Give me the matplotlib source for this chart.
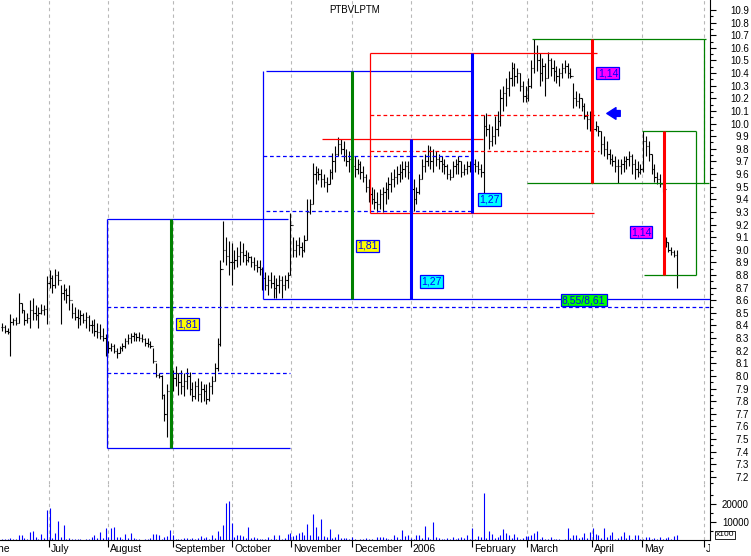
import matplotlib
matplotlib.use('Agg')
import matplotlib.pyplot as plt
from matplotlib.transforms import blended_transform_factory, Bbox, TransformedBbox

plt.rcParams['font.family'] = ['Liberation Sans', 'DejaVu Sans']

# daily bars, one per trading day (June 2005 - May 2006)
high = [8.42, 8.40, 8.38, 8.49, 8.46, 8.47, 8.66, 8.58, 8.52, 8.50,
        8.60, 8.62, 8.56, 8.55, 8.57, 8.56, 8.79, 8.84, 8.80, 8.85,
        8.83, 8.72, 8.73, 8.70, 8.72, 8.58, 8.55, 8.53, 8.52, 8.50,
        8.51, 8.48, 8.44, 8.45, 8.42, 8.41, 8.38, 8.33, 8.28, 8.26,
        8.25, 8.22, 8.24, 8.26, 8.30, 8.33, 8.34, 8.35, 8.34, 8.35,
        8.33, 8.30, 8.30, 8.28, 8.22, 8.10, 8.02, 8.01, 7.86, 7.94,
        7.96, 8.05, 8.08, 8.02, 8.05, 8.02, 8.06, 8.03, 7.95, 7.96,
        7.98, 7.96, 7.94, 7.94, 7.95, 8.00, 8.10, 8.30, 8.92, 9.23,
        9.10, 9.07, 9.05, 9.00, 9.02, 9.07, 9.05, 9.00, 8.98, 8.95,
        8.94, 8.92, 8.92, 8.86, 8.82, 8.80, 8.82, 8.80, 8.78, 8.80,
        8.79, 8.80, 8.82, 9.29, 9.10, 9.08, 9.10, 9.06, 9.12, 9.40,
        9.40, 9.69, 9.66, 9.65, 9.64, 9.60, 9.58, 9.64, 9.77, 9.82,
        9.89, 9.88, 9.86, 9.80, 9.78, 9.76, 9.74, 9.72, 9.70, 9.66,
        9.60, 9.56, 9.50, 9.48, 9.46, 9.48, 9.50, 9.54, 9.58, 9.62,
        9.64, 9.66, 9.68, 9.70, 9.70, 9.70, 9.62, 9.56, 9.50, 9.60,
        9.72, 9.76, 9.83, 9.82, 9.80, 9.78, 9.76, 9.74, 9.72, 9.68,
        9.64, 9.70, 9.72, 9.74, 9.70, 9.68, 9.70, 9.70, 9.73, 9.72,
        9.70, 9.68, 10.07, 10.08, 10.00, 9.98, 10.06, 10.10, 10.27, 10.30,
        10.36, 10.42, 10.49, 10.48, 10.44, 10.40, 10.34, 10.30, 10.36, 10.50,
        10.67, 10.62, 10.56, 10.52, 10.48, 10.57, 10.52, 10.50, 10.46, 10.44,
        10.48, 10.50, 10.48, 10.44, 10.32, 10.26, 10.24, 10.20, 10.16, 10.10,
        10.10, 10.11, 10.02, 9.98, 9.94, 9.90, 9.86, 9.80, 9.76, 9.74,
        9.72, 9.72, 9.74, 9.74, 9.78, 9.76, 9.72, 9.70, 9.68, 9.94,
        9.90, 9.86, 9.76, 9.68, 9.62, 9.60, 9.50, 9.10, 9.06, 9.02,
        9.00, 9.00]
low = [8.36, 8.34, 8.33, 8.16, 8.40, 8.40, 8.42, 8.50, 8.40, 8.42,
       8.38, 8.44, 8.44, 8.38, 8.49, 8.48, 8.41, 8.70, 8.66, 8.70,
       8.72, 8.41, 8.60, 8.58, 8.52, 8.46, 8.44, 8.38, 8.40, 8.42,
       8.38, 8.36, 8.34, 8.32, 8.30, 8.29, 8.28, 8.16, 8.18, 8.20,
       8.18, 8.14, 8.18, 8.20, 8.22, 8.25, 8.26, 8.28, 8.28, 8.28,
       8.27, 8.24, 8.23, 8.22, 8.10, 7.99, 7.98, 7.82, 7.64, 7.52,
       7.43, 7.88, 7.92, 7.85, 7.86, 7.84, 7.90, 7.85, 7.80, 7.82,
       7.80, 7.79, 7.80, 7.78, 7.80, 7.86, 7.96, 8.04, 8.24, 8.90,
       8.88, 8.80, 8.72, 8.85, 8.86, 8.88, 8.90, 8.88, 8.90, 8.86,
       8.84, 8.82, 8.80, 8.68, 8.68, 8.64, 8.70, 8.62, 8.62, 8.66,
       8.62, 8.68, 8.70, 8.80, 8.94, 8.94, 8.96, 8.94, 8.98, 9.08,
       9.28, 9.36, 9.52, 9.55, 9.50, 9.50, 9.46, 9.52, 9.56, 9.62,
       9.74, 9.76, 9.70, 9.66, 9.62, 9.60, 9.58, 9.60, 9.56, 9.54,
       9.46, 9.38, 9.36, 9.32, 9.30, 9.32, 9.30, 9.36, 9.40, 9.46,
       9.50, 9.52, 9.54, 9.56, 9.58, 9.56, 9.44, 9.31, 9.36, 9.44,
       9.56, 9.62, 9.66, 9.64, 9.62, 9.66, 9.64, 9.62, 9.60, 9.56,
       9.55, 9.58, 9.60, 9.60, 9.58, 9.59, 9.60, 9.62, 9.60, 9.62,
       9.60, 9.58, 9.45, 9.90, 9.80, 9.82, 9.84, 9.90, 9.98, 10.10,
       10.14, 10.22, 10.30, 10.30, 10.32, 10.26, 10.17, 10.17, 10.18, 10.28,
       10.40, 10.42, 10.30, 10.34, 10.22, 10.36, 10.38, 10.34, 10.32, 10.30,
       10.36, 10.40, 10.36, 10.36, 10.12, 10.14, 10.12, 10.10, 10.04, 9.96,
       9.94, 9.90, 9.94, 9.90, 9.76, 9.74, 9.72, 9.68, 9.66, 9.62,
       9.53, 9.60, 9.62, 9.64, 9.66, 9.60, 9.56, 9.58, 9.60, 9.62,
       9.74, 9.70, 9.60, 9.54, 9.52, 9.50, 9.46, 9.02, 8.98, 8.96,
       8.94, 8.70]
close = [8.39, 8.36, 8.35, 8.43, 8.44, 8.42, 8.58, 8.52, 8.44, 8.46,
         8.52, 8.50, 8.48, 8.50, 8.52, 8.53, 8.74, 8.78, 8.72, 8.80,
         8.76, 8.66, 8.68, 8.64, 8.60, 8.50, 8.47, 8.46, 8.48, 8.44,
         8.47, 8.40, 8.40, 8.36, 8.35, 8.32, 8.30, 8.24, 8.22, 8.24,
         8.20, 8.18, 8.22, 8.24, 8.28, 8.30, 8.32, 8.33, 8.31, 8.30,
         8.29, 8.26, 8.25, 8.24, 8.12, 8.01, 8.00, 7.85, 7.70, 7.88,
         7.92, 7.98, 8.02, 7.95, 7.92, 7.96, 8.00, 7.90, 7.84, 7.92,
         7.86, 7.90, 7.88, 7.82, 7.92, 7.96, 8.06, 8.25, 8.85, 9.00,
         8.95, 8.90, 8.90, 8.92, 8.95, 8.98, 8.96, 8.92, 8.94, 8.90,
         8.88, 8.86, 8.85, 8.78, 8.72, 8.76, 8.74, 8.70, 8.72, 8.76,
         8.72, 8.76, 8.80, 9.20, 9.00, 9.04, 9.02, 9.00, 9.08, 9.30,
         9.36, 9.60, 9.62, 9.60, 9.56, 9.54, 9.52, 9.62, 9.70, 9.76,
         9.84, 9.80, 9.74, 9.70, 9.72, 9.66, 9.64, 9.68, 9.62, 9.58,
         9.50, 9.44, 9.40, 9.38, 9.36, 9.44, 9.46, 9.48, 9.52, 9.56,
         9.58, 9.60, 9.62, 9.64, 9.66, 9.62, 9.48, 9.40, 9.46, 9.56,
         9.66, 9.70, 9.78, 9.70, 9.74, 9.72, 9.70, 9.68, 9.66, 9.60,
         9.58, 9.66, 9.68, 9.70, 9.62, 9.64, 9.66, 9.66, 9.68, 9.66,
         9.64, 9.62, 9.98, 9.96, 9.86, 9.90, 9.96, 10.02, 10.20, 10.24,
         10.28, 10.36, 10.44, 10.38, 10.40, 10.30, 10.22, 10.20, 10.30, 10.44,
         10.56, 10.50, 10.40, 10.46, 10.36, 10.50, 10.44, 10.42, 10.38, 10.40,
         10.44, 10.46, 10.40, 10.38, 10.20, 10.18, 10.20, 10.14, 10.06, 10.04,
         10.00, 9.96, 9.98, 9.94, 9.84, 9.80, 9.76, 9.72, 9.70, 9.66,
         9.66, 9.68, 9.70, 9.72, 9.74, 9.68, 9.64, 9.62, 9.64, 9.86,
         9.82, 9.76, 9.64, 9.58, 9.56, 9.52, 9.48, 9.06, 9.00, 8.98,
         8.96, 8.80]
# volume in hundreds of shares
volume = [800, 400, 600, 1200, 500, 300, 2700, 2700, 900, 400,
          4500, 5000, 1500, 800, 3300, 1200, 16400, 17700, 1000, 4000,
          10400, 1500, 8200, 700, 900, 500, 600, 300, 400, 200,
          300, 600, 1500, 2600, 900, 4500, 1000, 6400, 1800, 6400,
          6900, 1800, 1500, 500, 3300, 900, 3600, 1000, 600, 300,
          200, 400, 300, 900, 3300, 3300, 2700, 800, 1800, 2000,
          5500, 2700, 400, 600, 300, 1000, 1200, 500, 900, 600,
          1200, 2000, 900, 1800, 600, 2700, 1000, 5100, 2000, 8200,
          20400, 21300, 9500, 1500, 2700, 2700, 2000, 900, 7300, 1200,
          1800, 1000, 600, 300, 800, 1500, 500, 2500, 400, 2800,
          600, 1200, 3200, 3600, 2000, 3000, 4000, 4500, 3000, 8700,
          2500, 14200, 7300, 2000, 11300, 2000, 1800, 6000, 1000, 1500,
          3300, 1200, 900, 1300, 600, 1500, 300, 200, 600, 300,
          1200, 500, 300, 200, 1500, 1800, 1500, 900, 300, 400,
          2700, 1500, 700, 5500, 2200, 2700, 1200, 800, 2700, 2700,
          900, 7700, 1500, 800, 10000, 1800, 900, 500, 400, 1200,
          600, 1400, 800, 900, 1800, 1000, 2700, 600, 6400, 400,
          2000, 1500, 25900, 1000, 5100, 3300, 900, 1500, 2500, 6000,
          3600, 2700, 900, 3300, 1500, 600, 900, 2000, 2200, 3000,
          4000, 5100, 800, 1500, 300, 400, 1800, 600, 300, 400,
          200, 300, 6400, 1200, 2700, 2700, 900, 1500, 3600, 1000,
          4500, 6400, 3300, 2500, 1000, 6400, 1500, 2500, 4500, 800,
          1200, 2000, 4500, 900, 2700, 600, 2700, 2700, 400, 300,
          1500, 1800, 400, 1000, 600, 1500, 800, 1200, 1500, 500,
          2000, 2700]

# month boundaries (trading-day index) and labels
month_pos = [-5.7, 16.7, 37.8, 60.9, 82.3, 103.1, 124.9, 146.0, 167.75, 187.6, 210.8, 228.5, 250.6]
month_names = ['June', 'July', 'August', 'September', 'October', 'November', 'December',
               '2006', 'February', 'March', 'April', 'May', 'June']

# drawn studies: (price, x from, x to, colour)
solid_h = [(9.24, 37.6, 102.1, 'blue'), (7.43, 37.6, 102.9, 'blue'),
           (10.42, 94.3, 168.2, 'blue'), (8.61, 93.1, 253.0, 'blue'),
           (9.88, 114.3, 171.8, 'red'), (10.56, 131.4, 212.5, 'red'),
           (9.29, 131.4, 211.4, 'red'), (10.67, 189.2, 251.3, 'green'),
           (9.53, 187.6, 252.5, 'green'), (9.94, 228.5, 247.75, 'green'),
           (8.80, 229.3, 247.75, 'green')]
dashed_h = [(8.55, 37.6, 253.0, 'blue'), (8.02, 37.6, 102.9, 'blue'),
            (9.74, 93.1, 168.2, 'blue'), (9.31, 94.3, 168.2, 'blue'),
            (10.07, 131.4, 213.2, 'red'), (9.78, 131.4, 213.2, 'red')]
# (x, price from, price to, colour)
thin_v = [(37.6, 7.43, 9.24, 'blue'), (93.1, 8.61, 10.42, 'blue'),
          (131.4, 9.29, 10.56, 'red'), (250.6, 9.53, 10.67, 'green'),
          (247.75, 8.80, 9.94, 'green')]
thick_v = [(60.25, 7.43, 9.24, 'green'), (125.0, 8.61, 10.42, 'green'),
           (146.0, 8.61, 9.88, 'blue'), (168.0, 9.29, 10.56, 'blue'),
           (210.7, 9.53, 10.67, 'red'), (236.3, 8.80, 9.94, 'red')]
# (x, price, text, box colour)
boxes = [(66.1, 8.41, '1,81', 'yellow'), (130.5, 9.03, '1,81', 'yellow'),
         (153.4, 8.75, '1,27', 'cyan'), (174.2, 9.40, '1,27', 'cyan'),
         (216.4, 10.40, '1,14', 'magenta'), (228.2, 9.14, '1,14', 'magenta'),
         (207.7, 8.60, '8,55/8,61', 'lime')]
arrow_x = [216.0, 220.8]
arrow_price = 10.08

GREEN = '#008000'
cmap = {'blue': '#0000ff', 'red': '#ff0000', 'green': GREEN}

fig = plt.figure(figsize=(7.51, 5.56), dpi=100)
W, H = 751, 556
ax = fig.add_axes([0, 1 - 484 / H, 710 / W, 484 / H])
axv = fig.add_axes([0, 16 / H, 710 / W, 56 / H])

n = len(close)
xs = list(range(n))
opens = [close[0]] + close[:-1]

# price bars
ax.vlines(xs, low, high, color='black', lw=0.8, zorder=3)
ax.hlines(opens, [x - 0.4 for x in xs], xs, color='black', lw=0.8, zorder=3)
ax.hlines(close, xs, [x + 0.4 for x in xs], color='black', lw=0.8, zorder=3)

# volume
axv.vlines(xs, 0, volume, color='#0000ff', lw=0.8)

xlim = (-0.714, 252.86)
for a in (ax, axv):
    a.set_xlim(*xlim)
    for m in month_pos:
        a.axvline(m, color='#b8b8b8', lw=0.8, ls=(0, (3, 3)), zorder=1)
    for s in ('left', 'top'):
        a.spines[s].set_visible(False)
    a.yaxis.tick_right()

ax.set_ylim(7.144, 10.979)
axv.set_ylim(0, 30770)
ax.spines['bottom'].set_visible(False)
ax.set_xticks([])

# studies
for p, x0, x1, c in solid_h:
    ax.hlines(p, x0, x1, color=cmap[c], lw=0.9, zorder=4)
for p, x0, x1, c in dashed_h:
    ax.hlines(p, x0, x1, color=cmap[c], lw=0.9, ls=(0, (3, 2.2)), zorder=4)
for x, p0, p1, c in thin_v:
    ax.vlines(x, p0, p1, color=cmap[c], lw=0.9, zorder=4)
for x, p0, p1, c in thick_v:
    ax.vlines(x, p0, p1, color=cmap[c], lw=2.2, zorder=5)
for x, p, t, c in boxes:
    ax.text(x, p, t, color='#0000ff', fontsize=7.5, ha='center', va='center', zorder=6,
            bbox=dict(boxstyle='square,pad=0.12', fc=c, ec='#0000ff', lw=0.9))
ax.annotate('', xy=(arrow_x[0], arrow_price), xytext=(arrow_x[1], arrow_price), zorder=6,
            arrowprops=dict(arrowstyle='simple,head_width=0.7,head_length=0.55,tail_width=0.35',
                            color='#0000ff', mutation_scale=12, shrinkA=0, shrinkB=0))

# right price axis
majors = [round(7.2 + 0.1 * k, 1) for k in range(38)]
minors = [round(7.15 + 0.1 * k, 2) for k in range(38)]
ax.set_yticks(majors)
ax.set_yticklabels(['%.1f' % v for v in majors])
ax.set_yticks(minors, minor=True)
ax.tick_params(axis='y', which='major', length=4, width=0.8, pad=24, labelsize=7)
ax.tick_params(axis='y', which='minor', length=2.2, width=0.8)
for lab in ax.get_yticklabels():
    lab.set_horizontalalignment('right')

axv.set_yticks([10000, 20000])
axv.set_yticklabels(['10000', '20000'])
axv.set_yticks([5000, 15000, 25000], minor=True)
axv.tick_params(axis='y', which='major', length=4, width=0.8, pad=24, labelsize=7)
axv.tick_params(axis='y', which='minor', length=2.2, width=0.8)
for lab in axv.get_yticklabels():
    lab.set_horizontalalignment('right')

# month axis
axv.set_xticks([m for m in month_pos if xlim[0] < m < xlim[1]])
axv.set_xticklabels([])
axv.tick_params(axis='x', length=5, width=0.8, direction='out')
clip = TransformedBbox(Bbox([[0, 0], [710 / W, 1]]), fig.transFigure)
tr = blended_transform_factory(axv.transData, fig.transFigure)
for m, name in zip(month_pos, month_names):
    t = axv.text(m + 0.7, 1 - 549 / H, name, transform=tr, fontsize=7.5,
                 ha='left', va='center', clip_on=True)
    t.set_clip_box(clip)

fig.text(734 / W, 1 - 535 / H, 'x100', fontsize=6, ha='right', va='center',
         bbox=dict(boxstyle='square,pad=0.1', fc='white', ec='black', lw=0.6))
fig.text(355 / W, 1 - 10 / H, 'PTBVLPTM', fontsize=7, ha='center', va='center')

fig.savefig('out.png', dpi=100)
